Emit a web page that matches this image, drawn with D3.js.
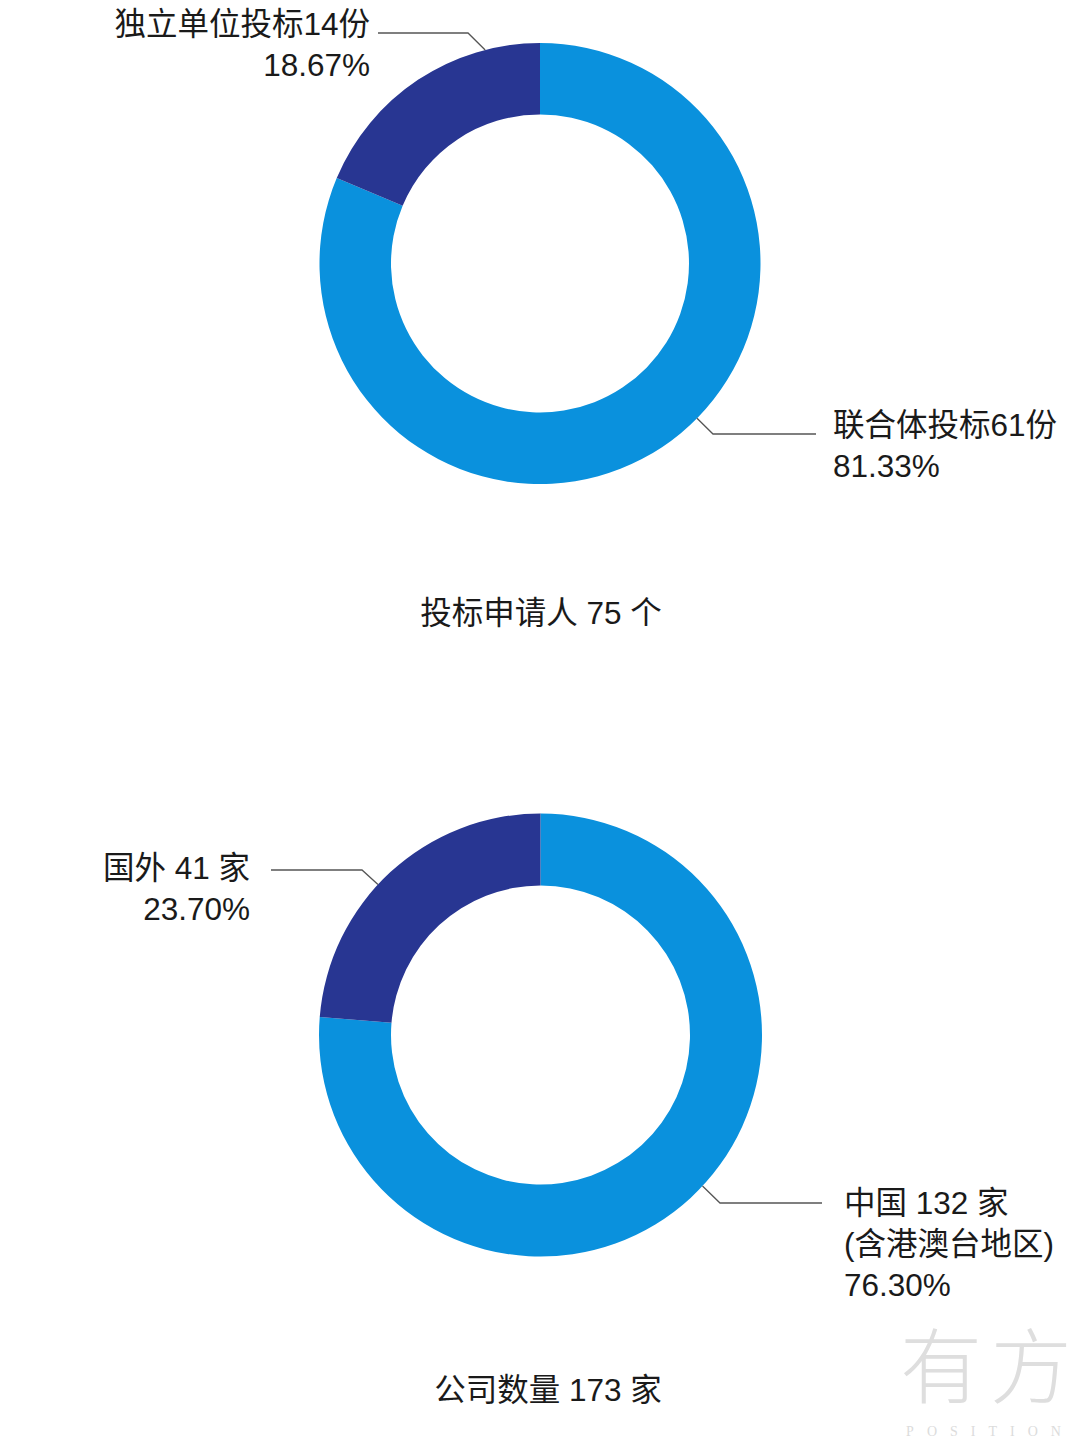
<!DOCTYPE html>
<html><head><meta charset="utf-8">
<script src="https://cdn.jsdelivr.net/npm/d3@7"></script>
<style>
html,body{margin:0;padding:0;background:#fff;}
svg{display:block;}
text{font-family:"Liberation Sans","Noto Sans CJK SC",sans-serif;fill:#1a1a1a;}
</style></head>
<body>
<script>
// ---- data ----
const chart1Categories = ["联合体投标", "独立单位投标"];
const chart1Values = [61, 14];
const chart1Percents = ["81.33%", "18.67%"];
const chart1Title = "投标申请人 75 个";

const chart2Categories = ["中国", "国外"];
const chart2Values = [132, 41];
const chart2Percents = ["76.30%", "23.70%"];
const chart2Title = "公司数量 173 家";

const colors = ["#0a91dd", "#283692"];

// ---- layout ----
const W = 1080, H = 1439;
const svg = d3.select("body").append("svg").attr("width", W).attr("height", H);

function donut(cfg) {
  const g = svg.append("g").attr("transform", `translate(${cfg.cx},${cfg.cy})`);
  const pie = d3.pie().sort(null).value(d => d.value);
  const arcs = pie(cfg.data);
  const arc = d3.arc().innerRadius(cfg.ri).outerRadius(cfg.ro);
  g.selectAll("path").data(arcs).join("path")
    .attr("d", arc).attr("fill", (d, i) => colors[i]);

  cfg.labels.forEach((lb, i) => {
    const a = lb.angle * Math.PI / 180;
    const p0 = [Math.sin(a) * cfg.ro, -Math.cos(a) * cfg.ro];
    const line = d3.line();
    g.append("path")
      .attr("d", line([p0, lb.elbow, lb.end]))
      .attr("fill", "none").attr("stroke", "#555").attr("stroke-width", 1.3);
    const t = g.append("text")
      .attr("text-anchor", lb.anchor)
      .attr("font-size", 31.5);
    lb.lines.forEach((s, k) => {
      t.append("tspan").attr("x", lb.tx).attr("y", lb.ty + k * 41).text(s);
    });
  });

  svg.append("text").attr("x", cfg.titleX).attr("y", cfg.titleY)
    .attr("text-anchor", "middle").attr("font-size", 31.5).text(cfg.title);
}

const c1 = { cx: 540, cy: 263.5 };
donut({
  cx: c1.cx, cy: c1.cy, ro: 220.5, ri: 149,
  data: chart1Categories.map((c, i) => ({ name: c, value: chart1Values[i] })),
  title: chart1Title, titleX: 541, titleY: 624,
  labels: [
    { angle: 134.6, elbow: [173, 434 - c1.cy], end: [276, 434 - c1.cy], anchor: "start",
      tx: 293, ty: 436 - c1.cy,
      lines: [chart1Categories[0] + chart1Values[0] + "份", chart1Percents[0]] },
    { angle: 345.6, elbow: [468 - c1.cx, 33 - c1.cy], end: [378 - c1.cx, 33 - c1.cy], anchor: "end",
      tx: 370 - c1.cx, ty: 35 - c1.cy,
      lines: [chart1Categories[1] + chart1Values[1] + "份", chart1Percents[1]] }
  ]
});

const c2 = { cx: 540.5, cy: 1035 };
donut({
  cx: c2.cx, cy: c2.cy, ro: 221.5, ri: 149.5,
  data: chart2Categories.map((c, i) => ({ name: c, value: chart2Values[i] })),
  title: chart2Title, titleX: 548, titleY: 1401,
  labels: [
    { angle: 133, elbow: [720 - c2.cx, 1203 - c2.cy], end: [822 - c2.cx, 1203 - c2.cy], anchor: "start",
      tx: 844 - c2.cx, ty: 1214 - c2.cy,
      lines: [chart2Categories[0] + " " + chart2Values[0] + " 家", "(含港澳台地区)", chart2Percents[0]] },
    { angle: 312.8, elbow: [362 - c2.cx, 870 - c2.cy], end: [271 - c2.cx, 870 - c2.cy], anchor: "end",
      tx: 250 - c2.cx, ty: 879 - c2.cy,
      lines: [chart2Categories[1] + " " + chart2Values[1] + " 家", chart2Percents[1]] }
  ]
});

// watermark
svg.append("text").attr("x", 990).attr("y", 1397).attr("text-anchor", "middle")
  .attr("font-size", 82).style("fill", "#dedede").style("font-family", "'Noto Sans CJK SC'")
  .style("font-weight", 300).attr("letter-spacing", 8).text("有方");
svg.append("text").attr("x", 990).attr("y", 1436).attr("text-anchor", "middle")
  .attr("font-size", 14).style("fill", "#dcdcdc").style("font-family", "'Liberation Serif'")
  .attr("letter-spacing", 13).text("POSITION");
</script>
</body></html>
